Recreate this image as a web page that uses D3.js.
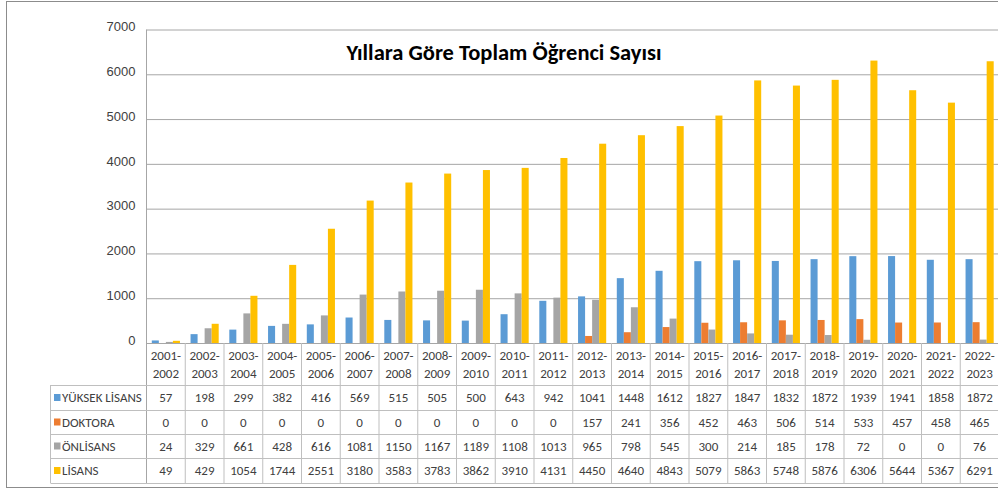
<!DOCTYPE html>
<html>
<head>
<meta charset="utf-8">
<script src="https://cdn.jsdelivr.net/npm/d3@7/dist/d3.min.js"></script>
<style>
  html, body { margin: 0; padding: 0; background: #fff; }
  svg { display: block; font-family: Carlito, Calibri, "Open Sans", sans-serif; }
  .axis text { fill: #404040; font-size: 13px; }
</style>
</head>
<body>
<svg id="chart"></svg>
<script>
"use strict";

var svg_width = 998;
var svg_height = 492;

var years = ["2001-2002", "2002-2003", "2003-2004", "2004-2005", "2005-2006", "2006-2007",
    "2007-2008", "2008-2009", "2009-2010", "2010-2011", "2011-2012", "2012-2013",
    "2013-2014", "2014-2015", "2015-2016", "2016-2017", "2017-2018", "2018-2019",
    "2019-2020", "2020-2021", "2021-2022", "2022-2023"];

var seriesNames = ["YÜKSEK LİSANS", "DOKTORA", "ÖNLİSANS", "LİSANS"];
var seriesColors = ["#5B9BD5", "#ED7D31", "#A5A5A5", "#FFC000"];

var yuksekLisans = [57, 198, 299, 382, 416, 569, 515, 505, 500, 643, 942, 1041, 1448, 1612, 1827, 1847, 1832, 1872, 1939, 1941, 1858, 1872];
var doktora = [0, 0, 0, 0, 0, 0, 0, 0, 0, 0, 0, 157, 241, 356, 452, 463, 506, 514, 533, 457, 458, 465];
var onlisans = [24, 329, 661, 428, 616, 1081, 1150, 1167, 1189, 1108, 1013, 965, 798, 545, 300, 214, 185, 178, 72, 0, 0, 76];
var lisans = [49, 429, 1054, 1744, 2551, 3180, 3583, 3783, 3862, 3910, 4131, 4450, 4640, 4843, 5079, 5863, 5748, 5876, 6306, 5644, 5367, 6291];

var yTicks = [0, 1000, 2000, 3000, 4000, 5000, 6000, 7000];
var title = "Yıllara Göre Toplam Öğrenci Sayısı";

var allSeries = [yuksekLisans, doktora, onlisans, lisans];

var svg = d3.select("#chart")
    .attr("width", svg_width)
    .attr("height", svg_height);

var plotLeft = 146.5;
var plotRight = 999;
var plotTop = 29.5;
var plotBottom = 343;
var tableLeft = 50.5;
var rowLines = [385, 410, 434, 458, 483];
var gridColor = "#A6A6A6";
var tableColor = "#BFBFBF";
var textColor = "#404040";

// outer frame
svg.append("rect")
    .attr("x", 6.5).attr("y", 1.5)
    .attr("width", svg_width).attr("height", 486)
    .attr("fill", "#fff")
    .attr("stroke", "#8C8C8C");

var x0 = d3.scaleBand()
    .domain(years)
    .range([plotLeft, plotRight]);

var x1 = d3.scaleBand()
    .domain(seriesNames)
    .range([5.3, x0.bandwidth() - 5.3]);

var yScale = d3.scaleLinear()
    .domain([0, 7000])
    .range([plotBottom, plotTop]);

// y axis with gridlines
var yAxis = svg.append("g")
    .attr("class", "axis axis--y")
    .attr("transform", "translate(" + plotLeft + ",0)")
    .call(d3.axisLeft(yScale)
        .tickValues(yTicks)
        .tickFormat(d3.format("d"))
        .tickSize(-(plotRight - plotLeft))
        .tickPadding(11));
yAxis.select(".domain").remove();
yAxis.selectAll(".tick line").attr("stroke", gridColor);
yAxis.selectAll(".tick text").attr("dy", "0.1em");

svg.append("line")
    .attr("x1", plotLeft).attr("x2", plotLeft)
    .attr("y1", plotTop).attr("y2", rowLines[rowLines.length - 1])
    .attr("stroke", gridColor);

// bars
var groups = svg.selectAll(".year")
    .data(years)
    .enter()
    .append("g")
    .attr("class", "year")
    .attr("transform", function(d) {return "translate(" + x0(d) + ",0)";});

groups.selectAll("rect")
    .data(function(d, i) {
        return seriesNames.map(function(s, j) {return {name: s, value: allSeries[j][i], color: seriesColors[j]};});
    })
    .enter()
    .append("rect")
    .attr("x", function(d) {return x1(d.name);})
    .attr("width", x1.bandwidth())
    .attr("y", function(d) {return yScale(d.value);})
    .attr("height", function(d) {return plotBottom - yScale(d.value);})
    .attr("fill", function(d) {return d.color;});

// x axis line
svg.append("line")
    .attr("x1", plotLeft).attr("x2", plotRight)
    .attr("y1", plotBottom + 0.5).attr("y2", plotBottom + 0.5)
    .attr("stroke", gridColor);

// data table
var table = svg.append("g").attr("class", "table");

years.forEach(function(y) {
    table.append("line")
        .attr("x1", x0(y) + x0.bandwidth()).attr("x2", x0(y) + x0.bandwidth())
        .attr("y1", plotBottom).attr("y2", rowLines[rowLines.length - 1])
        .attr("stroke", tableColor);
});
rowLines.forEach(function(r) {
    table.append("line")
        .attr("x1", tableLeft).attr("x2", plotRight)
        .attr("y1", r + 0.5).attr("y2", r + 0.5)
        .attr("stroke", tableColor);
});
table.append("line")
    .attr("x1", tableLeft).attr("x2", tableLeft)
    .attr("y1", rowLines[0]).attr("y2", rowLines[rowLines.length - 1])
    .attr("stroke", tableColor);

// header (category labels)
years.forEach(function(y) {
    var parts = y.split("-");
    var t = table.append("text")
        .attr("text-anchor", "middle")
        .attr("font-size", "13px")
        .attr("fill", textColor);
    t.append("tspan").attr("x", x0(y) + x0.bandwidth() / 2).attr("y", 360).text(parts[0] + "-");
    t.append("tspan").attr("x", x0(y) + x0.bandwidth() / 2).attr("y", 378).text(parts[1]);
});

// series rows
seriesNames.forEach(function(s, j) {
    var mid = (rowLines[j] + rowLines[j + 1]) / 2;
    table.append("rect")
        .attr("x", 54).attr("y", mid - 3.5)
        .attr("width", 6.5).attr("height", 7)
        .attr("fill", seriesColors[j]);
    table.append("text")
        .attr("x", 62).attr("y", mid + 4.5)
        .attr("font-size", "13px")
        .attr("fill", textColor)
        .text(s);
    allSeries[j].forEach(function(v, i) {
        table.append("text")
            .attr("x", x0(years[i]) + x0.bandwidth() / 2)
            .attr("y", mid + 4.5)
            .attr("text-anchor", "middle")
            .attr("font-size", "13px")
            .attr("fill", textColor)
            .text(v);
    });
});

// title
svg.append("text")
    .attr("x", 504)
    .attr("y", 59.5)
    .attr("text-anchor", "middle")
    .attr("font-size", "22.5px")
    .attr("font-weight", "bold")
    .attr("fill", "#000")
    .text(title);
</script>
</body>
</html>
